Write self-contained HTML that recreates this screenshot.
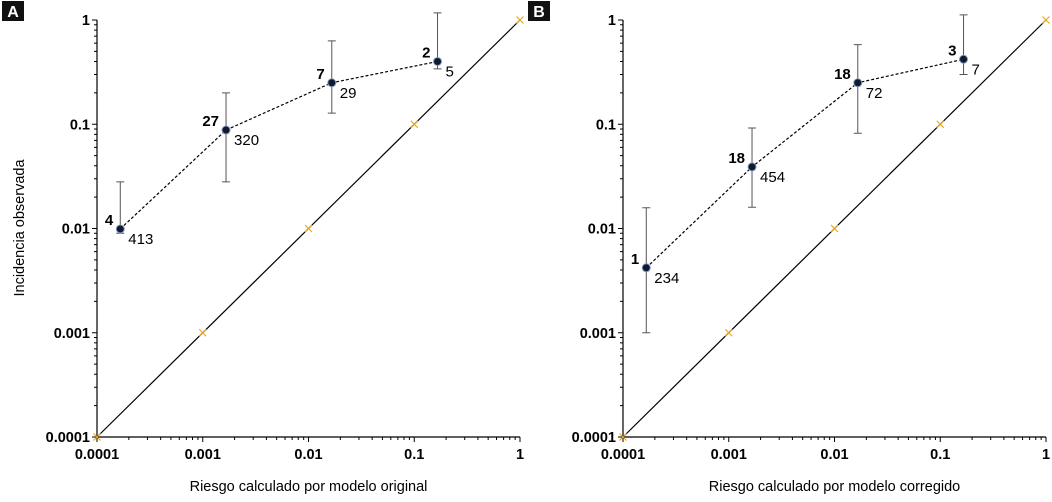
<!DOCTYPE html>
<html><head><meta charset="utf-8"><style>
body{margin:0;background:#fff;width:1052px;height:497px;overflow:hidden}
svg text{font-family:"Liberation Sans",Arial,sans-serif}
</style></head><body>
<svg id="c" width="1052" height="497"></svg>
<script>
const decades=[0.0001,0.001,0.01,0.1,1];
const tickLabels=["0.0001","0.001","0.01","0.1","1"];
const riskA=[0.000166,0.00166,0.0166,0.166];
const obsA=[0.0099,0.088,0.25,0.40];
const lowA=[0.009,0.028,0.128,0.34];
const highA=[0.028,0.2,0.63,1.17];
const eventsA=["4","27","7","2"];
const nA=["413","320","29","5"];
const riskB=[0.000166,0.00166,0.0166,0.166];
const obsB=[0.0042,0.039,0.25,0.42];
const lowB=[0.001,0.016,0.082,0.30];
const highB=[0.0158,0.092,0.58,1.12];
const eventsB=["1","18","18","3"];
const nB=["234","454","72","7"];
const NS="http://www.w3.org/2000/svg";
const svg=document.getElementById('c');
function el(t,a,p){const e=document.createElementNS(NS,t);for(const k in a)e.setAttribute(k,a[k]);(p||svg).appendChild(e);return e;}
function panel(x0,letter,xt,risk,obs,low,high,ev,nn,nameP){
 const g=el('g',{});
 
 
 const y0=437,dx=105.75,dy=104.25;
 const X=v=>x0+(Math.log10(v)+4)*dx, Y=v=>y0-(Math.log10(v)+4)*dy;
 let a=el('line',{x1:x0,y1:20,x2:x0,y2:y0,stroke:'#000','stroke-width':1.2},g);
 
 a=el('line',{x1:x0,y1:y0,x2:x0+4*dx,y2:y0,stroke:'#000','stroke-width':1.2},g);
 
 for(let d=0;d<decades.length;d++){
  const v=decades[d];
  el('line',{x1:x0-5,y1:Y(v),x2:x0,y2:Y(v),stroke:'#000'},g);
  el('line',{x1:X(v),y1:y0,x2:X(v),y2:y0+5,stroke:'#000'},g);
  if(d<4)for(let m=2;m<10;m++){
   el('line',{x1:x0-3,y1:Y(v*m),x2:x0,y2:Y(v*m),stroke:'#000'},g);
   el('line',{x1:X(v*m),y1:y0,x2:X(v*m),y2:y0+3,stroke:'#000'},g);
  }
  let t=el('text',{x:x0-7,y:Y(v)+5,'text-anchor':'end','font-size':14.5,'font-weight':'bold'},g);t.textContent=tickLabels[d];
  
  t=el('text',{x:X(v),y:y0+22,'text-anchor':'middle','font-size':14.5,'font-weight':'bold'},g);t.textContent=tickLabels[d];
  
 }
 a=el('line',{x1:X(decades[0]),y1:Y(decades[0]),x2:X(decades[4]),y2:Y(decades[4]),stroke:'#000','stroke-width':1.2},g);
 
 decades.forEach(v=>{const p=el('path',{d:`M${X(v)-3.5},${Y(v)-3.5}L${X(v)+3.5},${Y(v)+3.5}M${X(v)-3.5},${Y(v)+3.5}L${X(v)+3.5},${Y(v)-3.5}`,stroke:'#e8a820','stroke-width':1.2},g);
  });
 a=el('polyline',{points:risk.map((r,i)=>X(r)+','+Y(obs[i])).join(' '),fill:'none',stroke:'#000','stroke-dasharray':'3,2','stroke-width':1.2},g);
 
 risk.forEach((r,i)=>{
  const x=X(r);
  const e=el('path',{d:`M${x},${Y(high[i])}V${Y(low[i])}M${x-4},${Y(high[i])}h8M${x-4},${Y(low[i])}h8`,stroke:'#555','stroke-width':1},g);
  
  const c=el('circle',{cx:x,cy:Y(obs[i]),r:4,fill:'#0d1a33',stroke:'#8899bb','stroke-width':1},g);
  
  let t=el('text',{x:x-7,y:Y(obs[i])-4,'text-anchor':'end','font-size':15,'font-weight':'bold'},g);t.textContent=ev[i];
  
  t=el('text',{x:x+8,y:Y(obs[i])+15,'font-size':15},g);t.textContent=nn[i];
  
 });
 let t=el('text',{x:x0+2*dx,y:491,'text-anchor':'middle','font-size':14.5},g);t.textContent=xt;
 
 const r=el('rect',{x:letter=='A'?2:528,y:1,width:22,height:20,fill:'#111'},g);
 
 t=el('text',{x:(letter=='A'?13:539),y:17,'text-anchor':'middle','font-size':16,'font-weight':'bold',fill:'#fff'},g);t.textContent=letter;
 
}
panel(97,'A','Riesgo calculado por modelo original',riskA,obsA,lowA,highA,eventsA,nA,'panel-a');
panel(623,'B','Riesgo calculado por modelo corregido',riskB,obsB,lowB,highB,eventsB,nB,'panel-b');
const yt=el('text',{x:0,y:0,transform:'translate(24,228) rotate(-90)','text-anchor':'middle','font-size':14.5});
yt.textContent='Incidencia observada';


</script></body></html>
